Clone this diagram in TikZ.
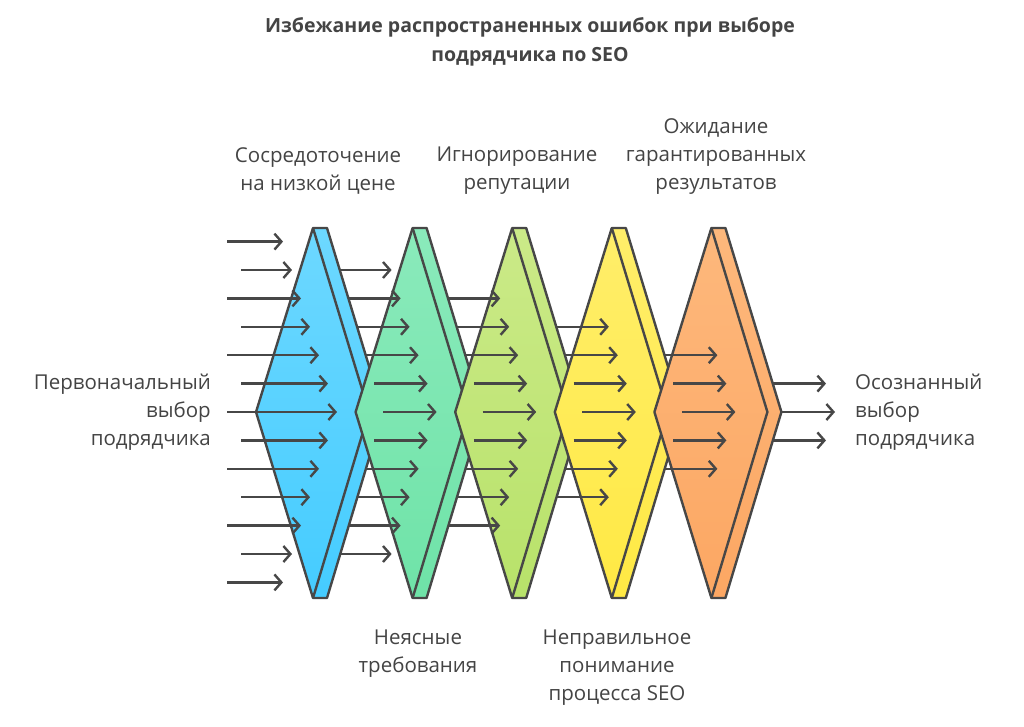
\documentclass[tikz,border=0pt]{standalone}
\usepackage{fontspec}
\setmainfont{Open Sans}[BoldFont={Open Sans Bold}]
\usetikzlibrary{positioning,calc,arrows.meta}
\definecolor{lineGray}{HTML}{474747}
\definecolor{textGray}{HTML}{444444}
\definecolor{stageBlueT}{HTML}{6DD8FF}
\definecolor{stageBlueB}{HTML}{45CCFF}
\definecolor{stageGreenT}{HTML}{8AEABB}
\definecolor{stageGreenB}{HTML}{6FE3A8}
\definecolor{stageLimeT}{HTML}{CBEA88}
\definecolor{stageLimeB}{HTML}{B8E26A}
\definecolor{stageYellowT}{HTML}{FFEE6A}
\definecolor{stageYellowB}{HTML}{FFE944}
\definecolor{stageOrangeT}{HTML}{FDB87C}
\definecolor{stageOrangeB}{HTML}{FCA763}
\tikzset{
  stage/.style={draw=lineGray,line width=2.4pt,line join=round},
  flow/.style={draw=lineGray,line width=2.4pt,-{Straight Barb[length=7pt,width=16pt]}},
  lbl/.style={text=textGray,font=\fontsize{20.5}{28}\selectfont,align=center,inner sep=0pt},
  ttl/.style={text=textGray,font=\fontsize{19.5}{29}\selectfont\bfseries,align=center,inner sep=0pt}
}
\begin{document}
\begin{tikzpicture}[x=1pt,y=-1pt]
  \useasboundingbox (0,0) rectangle (1024,726);
  \node[ttl] (title) at (530,42) {Избежание распространенных ошибок при выборе\\подрядчика по SEO};
  % stages
  \foreach \k/\c in {0/Blue,1/Green,2/Lime,3/Yellow,4/Orange} {
    \pgfmathsetmacro\dx{99.6*\k}
    \begin{scope}[xshift=\dx]
      \path[stage,top color=stage\c T,bottom color=stage\c B]
        (313,228) -- (327,228) -- (383,412) -- (327,598) -- (313,598) -- (256,412) -- cycle;
      \draw[stage] (313,228) -- (369,412) -- (313,598);
    \end{scope}
  }
  % incoming arrows
  \foreach \i in {-6,...,6} {
    \pgfmathsetmacro\yy{412+28.4*\i}
    \pgfmathsetmacro\xs{isodd(\i) ? 241 : 227}
    \pgfmathsetmacro\xe{337-9*abs(\i)}
    \coordinate (in\i s) at (\xs,\yy);
    \coordinate (in\i e) at (\xe,\yy);
    \draw[flow] (in\i s) -- (in\i e);
  }
  % arrows between stages
  \foreach \k/\n in {1/5,2/4,3/3,4/2,5/1} {
    \foreach \i in {-\n,...,\n} {
      \pgfmathsetmacro\yy{412+28.4*\i}
      \pgfmathsetmacro\xs{383-56*abs(\i)*28.4/184+99.6*(\k-1)}
      \pgfmathsetmacro\xe{337-9*abs(\i)+99.6*\k}
      \coordinate (s\k\i) at (\xs,\yy);
      \coordinate (e\k\i) at (\xe,\yy);
      \draw[flow] (s\k\i) -- (e\k\i);
    }
  }
  % labels
  \node[lbl] (focus) at (318,171) {Сосредоточение\\на низкой цене};
  \node[lbl] (ignore) at (517,171) {Игнорирование\\репутации};
  \node[lbl] (expect) at (716,157) {Ожидание\\гарантированных\\результатов};
  \node[lbl] (unclear) at (418,654) {Неясные\\требования};
  \node[lbl] (misread) at (617,668) {Неправильное\\понимание\\процесса SEO};
  \node[lbl,align=right,anchor=east] (start) at (211,412) {Первоначальный\\выбор\\подрядчика};
  \node[lbl,align=left,anchor=west] (finish) at (855,412) {Осознанный\\выбор\\подрядчика};
\end{tikzpicture}
\end{document}
